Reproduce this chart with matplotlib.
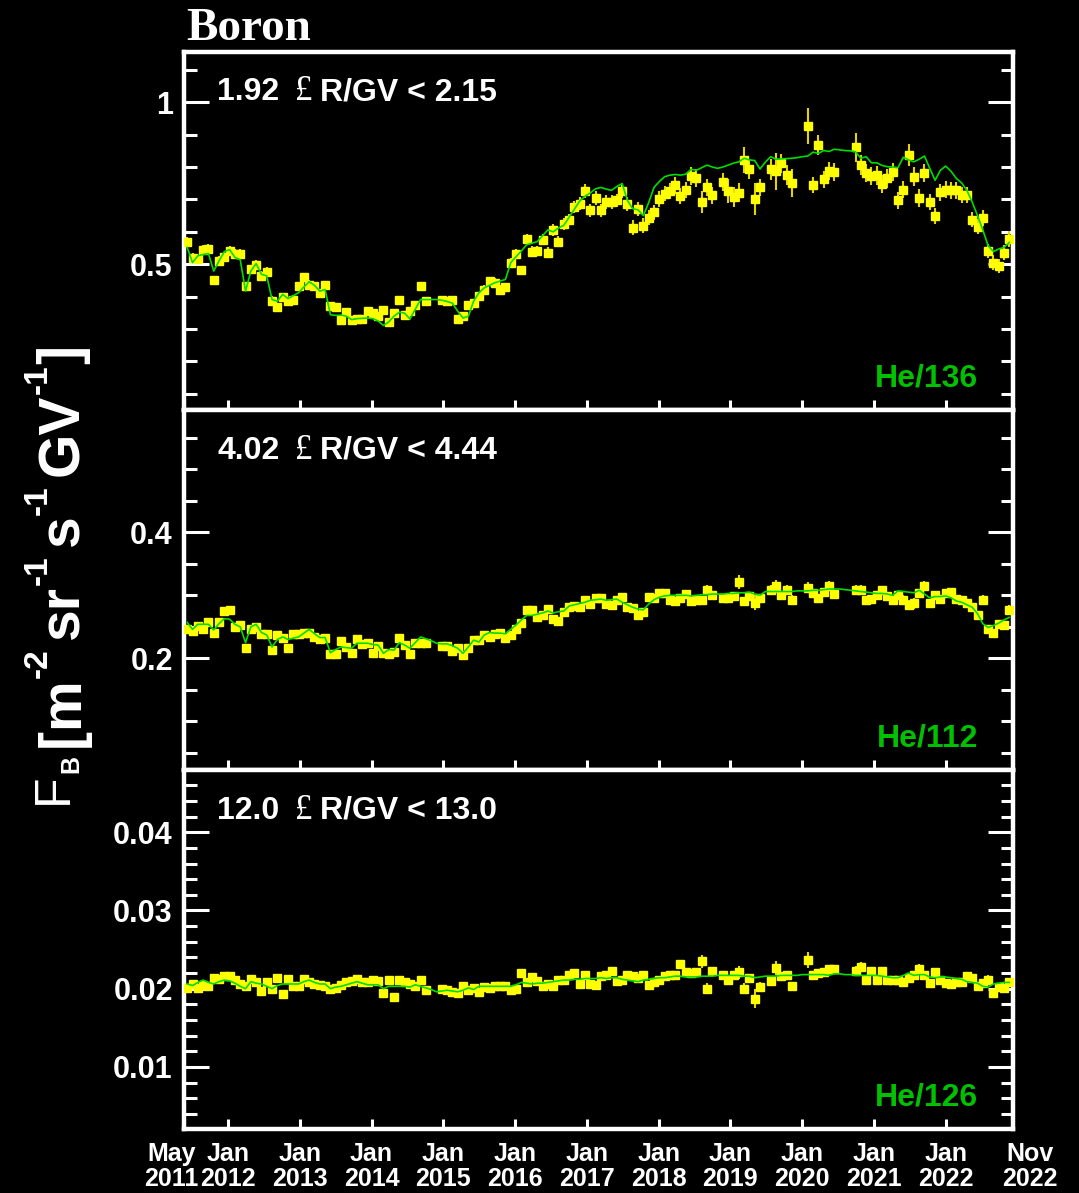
import matplotlib
matplotlib.use('Agg')
import matplotlib.pyplot as plt
import numpy as np
from matplotlib.text import Annotation
from matplotlib.ticker import MultipleLocator
from matplotlib.transforms import blended_transform_factory

nan = np.nan

# one value per Bartels rotation (27 days), first rotation centred mid-May 2011
T_FIRST = 2011.43
T_STEP = 27 / 365.25

# --- 1.92 <= R/GV < 2.15 -------------------------------------------------
flux_192 = [
    .570, .520, .516, .544, .548, .450, .510, .523, .541, .531,
    .533, .432, .484, .498, .464, .476, .388, .367, .398, .386,
    .391, .432, .460, .436, .432, .412, .436, .370, .368, .329,
    .352, .328, .332, .331, .355, .349, .339, .360, .323, .349,
    .390, .344, .355, .375, .432, .388, nan, nan, .391, .386,
    .391, .332, .339, .373, .380, .401, .422, .448, .443, .422,
    .429, .505, .531, .481, .578, .539, .541, .576, .536, .606,
    .570, .625, .638, .676, .687, .726, .666, .705, .666, .692,
    .692, .697, .726, .685, .612, .671, .619, .643, .661, .702,
    .718, .726, .744, .710, .728, .772, .765, .692, .737, .713,
    nan, .754, .726, .707, .721, .822, .793, .702, .737, nan,
    .793, .787, .811, .775, .751, nan, nan, .927, .744, .868,
    .762, .787, .784, nan, nan, nan, .861, .806, .782, .772,
    .774, .747, .765, .785, .697, .730, .837, .770, .705, .782,
    .692, .650, .722, .730, .728, .728, .713, .713, .638, .616,
    .642, .541, .505, .495, .536, .578,
]
err_192 = [
    .015, .014, .014, .015, .015, .014, .014, .015, .015, .015,
    .015, .014, .014, .014, .014, .014, .013, .013, .013, .013,
    .013, .014, .014, .014, .013, .013, .013, .012, .012, .012,
    .012, .012, .012, .012, .012, .012, .012, .012, .012, .012,
    .013, .012, .012, .012, .013, .012, nan, nan, .012, .012,
    .012, .012, .012, .012, .012, .013, .013, .014, .014, .013,
    .014, .015, .015, .015, .016, .016, .016, .017, .016, .018,
    .017, .018, .018, .019, .020, .021, .020, .021, .020, .021,
    .021, .021, .022, .021, .023, .022, .024, .023, .023, .024,
    .024, .025, .026, .025, .025, .028, .028, .034, .027, .026,
    nan, .028, .038, .031, .030, .041, .030, .050, .025, nan,
    .033, .057, .030, .031, .042, nan, nan, .055, .025, .030,
    .027, .028, .027, nan, nan, nan, .044, .030, .028, .028,
    .030, .028, .030, .028, .026, .027, .034, .030, .027, .028,
    .026, .025, .026, .027, .026, .026, .025, .025, .024, .024,
    .024, .022, .022, .021, .022, .024,
]
he_192 = [
    .552, .505, .526, .530, .533, .479, .510, .539, .545, .521,
    .514, .417, .479, .502, .469, .464, .391, .386, .407, .394,
    .403, .412, .430, .446, .435, .417, .422, .344, .342, .343,
    .340, .329, .332, .333, .334, .332, .325, .311, .322, .340,
    .352, .349, .331, .361, .391, .391, .391, .391, .389, .385,
    .380, .355, .334, .339, .386, .412, .427, .435, .443, .448,
    .453, .505, .523, .541, .560, .565, .570, .588, .606, .600,
    .612, .620, .645, .670, .695, .710, .720, .733, .737, .732,
    .728, .740, .749, .697, .671, .668, .650, .690, .737, .755,
    .770, .775, .777, .775, .778, .793, .790, .798, .806, .800,
    .796, .800, .806, .812, .816, .827, .822, .820, .794, .815,
    .832, .824, .825, .826, .827, .829, .832, .834, .846, .842,
    .851, .848, .855, .853, .851, .850, .847, .827, .832, .813,
    .813, .805, .801, .800, .798, .830, .822, .816, .824, .834,
    .796, .759, .790, .803, .787, .765, .751, .728, .692, .650,
    .606, .557, .539, .547, .552, .567,
]

# --- 4.02 <= R/GV < 4.44 -------------------------------------------------
flux_402 = [
    .247, .244, .251, .246, .258, .241, .257, .275, .276, .250,
    .253, .217, .247, .250, .238, .238, .213, .237, .232, .216,
    .239, .238, .241, .241, .234, .231, .232, .207, .207, .228,
    .218, .209, .230, .223, .224, .209, .219, .208, .207, .210,
    .232, .221, .207, .224, .225, .225, nan, nan, .219, .219,
    .212, .216, .205, .217, .229, .229, .237, .234, .238, .241,
    .233, .237, .246, .256, .276, .276, .265, .268, .279, .262,
    .259, .274, .282, .283, .282, .292, .286, .295, .295, .286,
    .284, .293, .297, .282, .280, .269, .274, .297, .295, .303,
    .303, .293, .291, .296, .302, .291, .292, .293, .308, .300,
    nan, .296, .295, .299, .321, .291, .299, .288, .295, nan,
    .308, .314, .300, .308, .292, nan, nan, .312, .303, .295,
    .305, .315, .302, nan, nan, nan, .309, .309, .293, .294,
    .301, .308, .299, .293, .300, .293, .285, .287, .303, .315,
    .287, .300, .294, .303, .305, .294, .292, .287, .281, .268,
    .293, .247, .240, .254, .253, .276,
]
err_402 = [
    .006, .005, .005, .005, .005, .005, .005, .006, .006, .005,
    .005, .005, .005, .005, .005, .005, .005, .005, .005, .005,
    .005, .005, .005, .005, .005, .005, .005, .005, .005, .005,
    .005, .005, .005, .005, .005, .005, .005, .005, .005, .005,
    .005, .005, .005, .005, .005, .005, nan, nan, .005, .005,
    .005, .005, .005, .005, .005, .005, .005, .005, .005, .005,
    .005, .005, .005, .005, .006, .006, .006, .006, .006, .006,
    .006, .006, .006, .006, .006, .006, .006, .006, .006, .006,
    .006, .006, .006, .006, .006, .006, .006, .006, .006, .006,
    .006, .006, .006, .006, .006, .006, .006, .006, .008, .006,
    nan, .006, .006, .007, .011, .007, .007, .012, .007, nan,
    .008, .011, .007, .008, .008, nan, nan, .009, .007, .006,
    .007, .008, .006, nan, nan, nan, .008, .008, .006, .006,
    .006, .007, .006, .006, .006, .007, .008, .008, .006, .008,
    .006, .006, .006, .006, .006, .006, .006, .006, .006, .007,
    .008, .006, .006, .006, .006, .008,
]
he_402 = [
    .257, .246, .254, .254, .254, .245, .255, .263, .262, .254,
    .250, .225, .250, .254, .241, .237, .218, .230, .234, .230,
    .232, .234, .240, .246, .239, .233, .233, .209, .214, .218,
    .217, .216, .224, .224, .224, .222, .221, .208, .214, .213,
    .225, .221, .216, .225, .234, .231, .228, .224, .223, .223,
    .220, .216, .208, .218, .229, .226, .237, .241, .240, .240,
    .239, .246, .253, .261, .268, .268, .270, .272, .275, .272,
    .274, .275, .283, .285, .287, .289, .292, .293, .294, .292,
    .293, .294, .289, .285, .281, .278, .277, .286, .293, .297,
    .299, .300, .300, .300, .300, .299, .300, .301, .301, .302,
    .302, .302, .303, .303, .304, .304, .305, .302, .300, .306,
    .306, .306, .306, .306, .306, .307, .307, .307, .308, .308,
    .309, .310, .310, .310, .309, .308, .307, .306, .305, .304,
    .303, .303, .302, .300, .307, .306, .305, .304, .308, .302,
    .296, .298, .298, .299, .296, .291, .289, .285, .281, .271,
    .255, .249, .252, .256, .261, .265,
]

# --- 12.0 <= R/GV < 13.0 -------------------------------------------------
flux_120 = [
    .0201, .0206, .0201, .0205, .0203, .0214, .0212, .0216, .0216, .0211,
    .0206, .0203, .0213, .0208, .0197, .0208, .0200, .0214, .0193, .0213,
    .0203, .0203, .0213, .0209, .0206, .0205, .0203, .0199, .0201, .0205,
    .0208, .0210, .0213, .0209, .0208, .0211, .0210, .0194, .0211, .0189,
    .0211, .0209, .0206, .0203, .0211, .0198, nan, nan, .0199, .0198,
    .0196, .0194, .0203, .0198, .0201, .0196, .0202, .0201, .0203, .0203,
    .0203, .0198, .0200, .0220, .0208, .0215, .0210, .0203, .0206, .0203,
    .0211, .0211, .0217, .0220, .0206, .0217, .0206, .0205, .0216, .0217,
    .0223, .0210, .0211, .0218, .0216, .0214, .0218, .0205, .0208, .0211,
    .0216, .0217, .0217, .0231, .0221, .0220, .0221, .0235, .0200, .0222,
    nan, .0217, .0211, .0218, .0221, .0200, .0214, .0187, .0202, nan,
    .0210, .0226, .0216, .0218, .0203, nan, nan, .0237, .0218, .0220,
    .0221, .0225, .0225, nan, nan, nan, .0223, .0228, .0211, .0222,
    .0211, .0222, .0211, .0211, .0211, .0209, .0214, .0217, .0225, .0217,
    .0207, .0221, .0211, .0207, .0206, .0209, .0209, .0216, .0214, .0204,
    .0207, .0211, .0195, .0202, .0201, .0208,
]
err_120 = [
    .0005, .0004, .0004, .0004, .0004, .0004, .0004, .0004, .0004, .0004,
    .0004, .0004, .0004, .0004, .0004, .0004, .0004, .0004, .0005, .0004,
    .0004, .0004, .0004, .0004, .0004, .0004, .0004, .0004, .0004, .0004,
    .0004, .0004, .0004, .0004, .0004, .0004, .0004, .0005, .0004, .0006,
    .0004, .0004, .0004, .0004, .0004, .0004, nan, nan, .0004, .0004,
    .0004, .0004, .0004, .0004, .0004, .0004, .0004, .0004, .0004, .0004,
    .0004, .0004, .0004, .0005, .0004, .0005, .0004, .0004, .0004, .0004,
    .0004, .0004, .0005, .0005, .0004, .0005, .0004, .0004, .0004, .0004,
    .0005, .0004, .0004, .0004, .0004, .0004, .0004, .0004, .0004, .0004,
    .0004, .0004, .0004, .0006, .0005, .0004, .0004, .0008, .0007, .0005,
    nan, .0005, .0005, .0005, .0008, .0007, .0005, .0012, .0006, nan,
    .0005, .0009, .0005, .0005, .0006, nan, nan, .0010, .0005, .0005,
    .0005, .0005, .0005, nan, nan, nan, .0006, .0006, .0005, .0005,
    .0005, .0005, .0005, .0005, .0005, .0005, .0005, .0005, .0006, .0005,
    .0005, .0005, .0005, .0005, .0005, .0005, .0005, .0005, .0005, .0005,
    .0005, .0006, .0005, .0005, .0005, .0006,
]
he_120 = [
    .0206, .0204, .0208, .0211, .0208, .0206, .0209, .0211, .0210, .0207,
    .0203, .0200, .0209, .0207, .0206, .0203, .0200, .0204, .0206, .0206,
    .0206, .0206, .0209, .0211, .0208, .0206, .0206, .0200, .0202, .0203,
    .0205, .0207, .0209, .0207, .0205, .0205, .0205, .0200, .0203, .0203,
    .0203, .0203, .0202, .0205, .0203, .0201, .0199, .0196, .0197, .0198,
    .0197, .0196, .0198, .0201, .0199, .0203, .0203, .0203, .0203, .0203,
    .0203, .0203, .0205, .0208, .0207, .0206, .0207, .0207, .0208, .0209,
    .0210, .0211, .0211, .0212, .0212, .0213, .0213, .0213, .0214, .0213,
    .0214, .0214, .0212, .0211, .0210, .0209, .0211, .0212, .0213, .0214,
    .0214, .0215, .0216, .0216, .0215, .0215, .0215, .0216, .0216, .0216,
    .0217, .0217, .0217, .0217, .0217, .0216, .0216, .0214, .0215, .0216,
    .0216, .0216, .0217, .0217, .0217, .0217, .0218, .0218, .0218, .0218,
    .0218, .0217, .0219, .0219, .0218, .0218, .0217, .0217, .0217, .0217,
    .0217, .0216, .0215, .0214, .0214, .0217, .0220, .0217, .0218, .0218,
    .0215, .0214, .0215, .0215, .0214, .0213, .0212, .0209, .0208, .0207,
    .0203, .0202, .0206, .0207, .0208, .0208,
]

year_ticks = list(range(2012, 2023))
year_labels = [f'Jan\n{y}' for y in year_ticks]

# y title pieces: text, size, weight, raise above baseline (px), gap before (px)
ytitle_parts = [
    ('F', 36, 'normal', 11, 0),
    ('B', 18, 'bold', 0, 0),
    ('[', 41, 'bold', 0, 8),
    ('m', 41, 'bold', 0, 0),
    ('-2', 24, 'bold', 31, 0),
    ('sr', 41, 'bold', 0, 9),
    ('-1', 24, 'bold', 31, 0),
    ('s', 41, 'bold', 0, 9),
    ('-1', 24, 'bold', 31, 0),
    ('GV', 41, 'bold', 0, 9),
    ('-1', 24, 'bold', 31, 0),
    (']', 41, 'bold', 0, 0),
]

plt.rcParams['font.family'] = ['Liberation Sans', 'DejaVu Sans']
plt.rcParams['font.weight'] = 'bold'

WHITE = 'white'
GREEN_TXT = '#00c000'
GREEN_LINE = '#00dd00'


def range_text(ax, lo, hi):
    y = 0.865
    t1 = ax.text(0.04, y, lo, transform=ax.transAxes, color=WHITE,
                 fontsize=23, fontweight='bold', va='baseline')
    t2 = ax.annotate('£', xy=(1, y), xycoords=(t1, ax.transAxes), xytext=(11, 0),
                     textcoords='offset points', color=WHITE, fontsize=25,
                     fontfamily='Liberation Serif', fontweight='normal', va='baseline')
    ax.annotate(hi, xy=(1, y), xycoords=(t2, ax.transAxes), xytext=(6, 0),
                textcoords='offset points', color=WHITE, fontsize=23,
                fontweight='bold', va='baseline')


def y_title(fig):
    # rotated text, read bottom to top; baseline at x = 78 px
    x_base = 78
    prev = None
    for txt, size, weight, lift, gap in ytitle_parts:
        kw = dict(rotation=90, rotation_mode='anchor', ha='left', va='baseline',
                  fontsize=size, fontweight=weight, color=WHITE)
        if prev is None:
            art = Annotation(txt, xy=(x_base - lift, 1193 - 804), xycoords='figure pixels', **kw)
        else:
            art = Annotation(txt, xy=(x_base - lift, 1), xycoords=('figure pixels', prev),
                             xytext=(0, gap), textcoords='offset pixels', **kw)
        fig.add_artist(art)
        prev = art


def main():
    panels = [
        (flux_192, err_192, he_192, '1.92', 'R/GV < 2.15', 'He/136',
         (0.05, 1.155), [0.5, 1.0], ['0.5', '1'], 0.1),
        (flux_402, err_402, he_402, '4.02', 'R/GV < 4.44', 'He/112',
         (0.023, 0.594), [0.2, 0.4], ['0.2', '0.4'], 0.05),
        (flux_120, err_120, he_120, '12.0', 'R/GV < 13.0', 'He/126',
         (0.00205, 0.04795), [0.01, 0.02, 0.03, 0.04],
         ['0.01', '0.02', '0.03', '0.04'], 0.002),
    ]

    fig = plt.figure(figsize=(10.79, 11.93), dpi=100, facecolor='black')
    left, width = 0.1705, 0.7684
    boxes = [(0.6563, 0.3001), (0.3546, 0.3018), (0.0536, 0.3009)]

    for i, (flux, err, he, lo, hi, he_lbl, ylim, major, major_lbl, minor) in enumerate(panels):
        bottom, height = boxes[i]
        ax = fig.add_axes([left, bottom, width, height])
        ax.set_facecolor('black')
        for sp in ax.spines.values():
            sp.set_color(WHITE)
            sp.set_linewidth(3.2)

        t = T_FIRST + T_STEP * np.arange(len(flux))
        ax.errorbar(t, flux, yerr=err, fmt='s', ms=5.8, mfc='#ffff00', mec='#ffff00',
                    ecolor='#e6d400', elinewidth=1.5, capsize=0, zorder=3)
        ax.plot(t, he, color=GREEN_LINE, lw=1.2, zorder=4)

        ax.set_xlim(2011.385, 2022.94)
        ax.set_ylim(*ylim)

        ax.set_xticks(year_ticks)
        ax.tick_params(axis='x', direction='in', length=7, width=2.2, color=WHITE,
                       top=False, labelcolor=WHITE, labelsize=18, pad=9,
                       labelbottom=(i == 2))
        if i == 2:
            ax.set_xticklabels(year_labels)
            for lbl in ax.get_xticklabels():
                lbl.set_linespacing(1.1)
            trans = blended_transform_factory(ax.transData, ax.transAxes)
            for xpos, txt in [(2011.21, 'May\n2011'), (2023.18, 'Nov\n2022')]:
                ax.annotate(txt, xy=(xpos, 0), xycoords=trans, xytext=(0, -9),
                            textcoords='offset points', ha='center', va='top',
                            color=WHITE, fontsize=18, linespacing=1.1,
                            annotation_clip=False)

        ax.set_yticks(major, labels=major_lbl)
        ax.yaxis.set_minor_locator(MultipleLocator(minor))
        ax.tick_params(axis='y', which='major', direction='in', length=18, width=2.2,
                       left=True, right=True, color=WHITE, labelcolor=WHITE,
                       labelsize=22, pad=8)
        ax.tick_params(axis='y', which='minor', direction='in', length=9, width=2.2,
                       left=True, right=True, color=WHITE)

        range_text(ax, lo, hi)
        ax.text(0.958, 0.065, he_lbl, transform=ax.transAxes, ha='right', va='baseline',
                color=GREEN_TXT, fontsize=23, fontweight='bold')

    fig.text(186 / 1079, 1 - 40 / 1193, 'Boron', fontfamily='Liberation Serif',
             fontweight='bold', fontsize=34, color=WHITE, va='baseline')
    y_title(fig)

    fig.savefig('out.png', dpi=100, facecolor='black')


if __name__ == '__main__':
    main()
